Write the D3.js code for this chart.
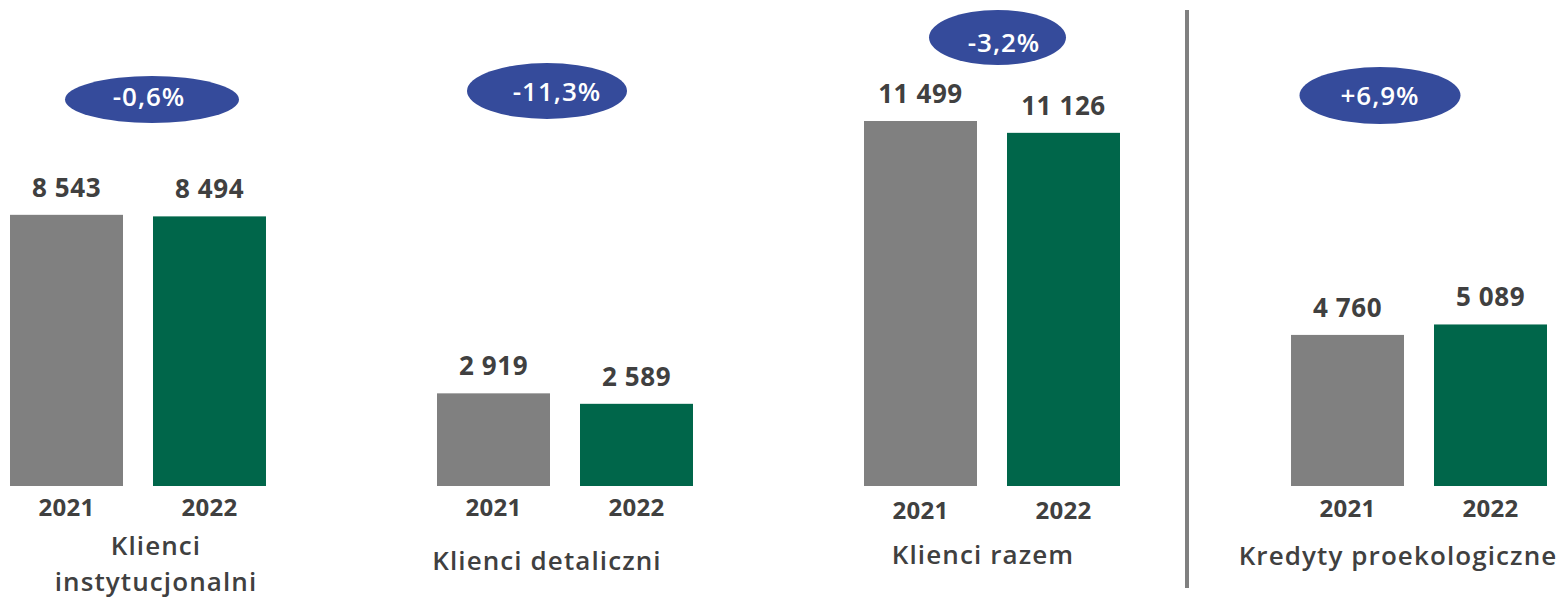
<!DOCTYPE html>
<html>
<head>
<meta charset="utf-8">
<script src="https://cdn.jsdelivr.net/npm/d3@7"></script>
<style>
  html, body { margin: 0; padding: 0; background: #fff; }
  svg { display: block; font-family: "Open Sans", sans-serif; }
</style>
</head>
<body>
<svg id="chart" width="1568" height="598"></svg>
<script>
// Values
var categories = ["Klienci instytucjonalni", "Klienci detaliczni", "Klienci razem", "Kredyty proekologiczne"];
var titleLines = [["Klienci", "instytucjonalni"], ["Klienci detaliczni"], ["Klienci razem"], ["Kredyty proekologiczne"]];
var years = ["2021", "2022"];
var values2021 = [8543, 2919, 11499, 4760];
var values2022 = [8494, 2589, 11126, 5089];
var changes = ["-0,6%", "-11,3%", "-3,2%", "+6,9%"];

// Layout of the change badges and titles (pasted slide, so not regular)
var badgeLayout = [
  {cx: 152, cy: 99.5, rx: 87, ry: 23.5, tx: 149, ty: 106},
  {cx: 547, cy: 91, rx: 80, ry: 28, tx: 557, ty: 101},
  {cx: 997.5, cy: 37.5, rx: 68.5, ry: 27.5, tx: 1004, ty: 52},
  {cx: 1380, cy: 95.5, rx: 80.5, ry: 28.5, tx: 1380, ty: 105}
];
var titleLayout = [
  {x: 156, y: [555, 591]},
  {x: 547, y: [570]},
  {x: 983, y: [564]},
  {x: 1398, y: [565]}
];
var yearBaseline = [516, 516, 519, 517];

var colors = {"2021": "#808080", "2022": "#00664a"};
var textColor = "#404040";
var badgeColor = "#354b9b";

var fmt = d3.formatLocale({decimal: ",", thousands: " ", grouping: [3], currency: ["", ""]}).format(",");

var data = categories.map(function(c, i) {
  return {cat: c, lines: titleLines[i], change: changes[i],
          values: [{year: years[0], value: values2021[i]}, {year: years[1], value: values2022[i]}]};
});

var svg = d3.select("#chart");

var x0 = d3.scaleBand()
  .domain(categories)
  .range([10, 1547])
  .paddingInner(0.4005)
  .paddingOuter(0);

var x1 = d3.scaleBand()
  .domain(years)
  .range([0, x0.bandwidth()])
  .paddingInner(0.2098)
  .paddingOuter(0);

var y = d3.scaleLinear()
  .domain([0, 11499])
  .range([486, 121]);

// divider before the last panel
svg.append("line")
  .attr("x1", 1187).attr("x2", 1187)
  .attr("y1", 10).attr("y2", 588)
  .attr("stroke", "#808080")
  .attr("stroke-width", 4);

var panels = svg.selectAll("g.panel")
  .data(data)
  .enter().append("g")
  .attr("class", "panel");

var bars = panels.selectAll("g.bar")
  .data(function(d, i) { return d.values.map(function(v) { return {cat: d.cat, i: i, year: v.year, value: v.value}; }); })
  .enter().append("g")
  .attr("class", "bar");

bars.append("rect")
  .attr("x", function(d) { return x0(d.cat) + x1(d.year); })
  .attr("y", function(d) { return y(d.value); })
  .attr("width", x1.bandwidth())
  .attr("height", function(d) { return y(0) - y(d.value); })
  .attr("fill", function(d) { return colors[d.year]; });

bars.append("text")
  .attr("x", function(d) { return x0(d.cat) + x1(d.year) + x1.bandwidth() / 2; })
  .attr("y", function(d) { return y(d.value) - 18; })
  .attr("text-anchor", "middle")
  .style("font-size", "26px")
  .style("font-weight", 700)
  .style("letter-spacing", "0.6px")
  .style("fill", textColor)
  .text(function(d) { return fmt(d.value); });

bars.append("text")
  .attr("x", function(d) { return x0(d.cat) + x1(d.year) + x1.bandwidth() / 2; })
  .attr("y", function(d) { return yearBaseline[d.i]; })
  .attr("text-anchor", "middle")
  .style("font-size", "24px")
  .style("font-weight", 700)
  .style("letter-spacing", "0.3px")
  .style("fill", textColor)
  .text(function(d) { return d.year; });

// change badges
panels.append("ellipse")
  .attr("cx", function(d, i) { return badgeLayout[i].cx; })
  .attr("cy", function(d, i) { return badgeLayout[i].cy; })
  .attr("rx", function(d, i) { return badgeLayout[i].rx; })
  .attr("ry", function(d, i) { return badgeLayout[i].ry; })
  .attr("fill", badgeColor);

panels.append("text")
  .attr("x", function(d, i) { return badgeLayout[i].tx; })
  .attr("y", function(d, i) { return badgeLayout[i].ty; })
  .attr("text-anchor", "middle")
  .style("font-size", "26px")
  .style("font-weight", 600)
  .style("letter-spacing", "1px")
  .style("fill", "#fff")
  .text(function(d) { return d.change; });

// category titles
panels.each(function(d, i) {
  var g = d3.select(this);
  d.lines.forEach(function(line, j) {
    g.append("text")
      .attr("x", titleLayout[i].x)
      .attr("y", titleLayout[i].y[j])
      .attr("text-anchor", "middle")
      .style("font-size", "26px")
      .style("font-weight", 600)
      .style("letter-spacing", "1.1px")
      .style("fill", textColor)
      .text(line);
  });
});
</script>
</body>
</html>
